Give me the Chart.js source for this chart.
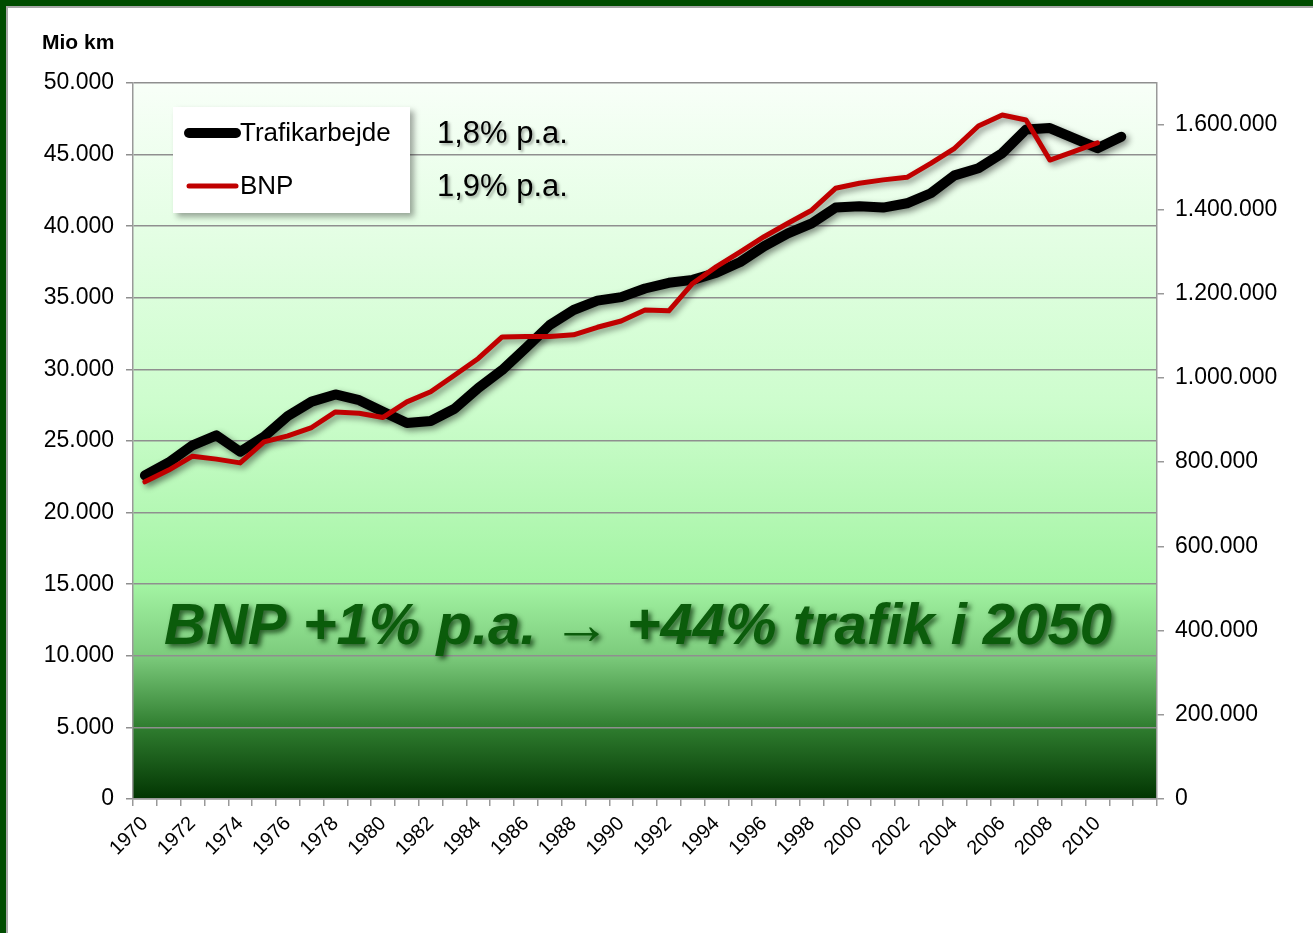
<!DOCTYPE html>
<html>
<head>
<meta charset="utf-8">
<script src="https://cdn.jsdelivr.net/npm/chart.js@4.4.1/dist/chart.umd.min.js"></script>
<style>
  body { margin: 0; background: #fff; }
  canvas { display: block; }
</style>
</head>
<body>
<canvas id="trafikChart" width="1313" height="933"></canvas>
<script>
// years on the category axis (last slot is empty, like the original)
const years = ['1970','1971','1972','1973','1974','1975','1976','1977','1978','1979',
               '1980','1981','1982','1983','1984','1985','1986','1987','1988','1989',
               '1990','1991','1992','1993','1994','1995','1996','1997','1998','1999',
               '2000','2001','2002','2003','2004','2005','2006','2007','2008','2009',
               '2010','2011',''];

// Trafikarbejde, mio km (left axis)
const trafikarbejde = [22600, 23500, 24700, 25400, 24250, 25300, 26750, 27750, 28250, 27850,
                       27050, 26250, 26400, 27250, 28700, 29950, 31500, 33100, 34150, 34800,
                       35050, 35650, 36050, 36250, 36750, 37500, 38600, 39500, 40200, 41300,
                       41400, 41300, 41600, 42300, 43550, 44050, 45100, 46750, 46850, 46150,
                       45450, 46250];

// BNP (right axis)
const bnp = [753000, 781000, 814000, 807000, 798000, 848000, 862000, 882000, 919000, 916000,
             906000, 943000, 967000, 1006000, 1046000, 1097000, 1098000, 1098000, 1102000, 1120000,
             1135000, 1161000, 1159000, 1224000, 1264000, 1299000, 1335000, 1367000, 1398000, 1450000,
             1462000, 1470000, 1476000, 1509000, 1545000, 1598000, 1624000, 1612000, 1517000, 1537000,
             1558000];

// tick values
const leftTicks = [0, 5000, 10000, 15000, 20000, 25000, 30000, 35000, 40000, 45000, 50000];
const rightTicks = [0, 200000, 400000, 600000, 800000, 1000000, 1200000, 1400000, 1600000];

const seriesNames = ['Trafikarbejde', 'BNP'];
const growthNotes = ['1,8% p.a.', '1,9% p.a.'];
const headline = 'BNP +1% p.a. \u2192 +44% trafik i 2050';
const unitLabel = 'Mio km';

const FONT = '"Liberation Sans", Arial, sans-serif';
const dots = v => String(v).replace(/\B(?=(\d{3})+(?!\d))/g, '.');

// page frame + gradient plot background
const backdrop = {
    id: 'backdrop',
    beforeDraw(chart) {
        const c = chart.ctx, a = chart.chartArea;
        c.save();
        c.fillStyle = '#fff';
        c.fillRect(0, 0, chart.width, chart.height);
        const g = c.createLinearGradient(0, a.top, 0, a.bottom);
        g.addColorStop(0, '#f8fff8');
        g.addColorStop(0.45, '#cdfdcd');
        g.addColorStop(0.70, '#a3f4a3');
        g.addColorStop(0.80, '#7ccb7c');
        g.addColorStop(0.90, '#2f7d2f');
        g.addColorStop(1, '#023502');
        c.fillStyle = g;
        c.fillRect(a.left, a.top, a.right - a.left, a.bottom - a.top);
        // frame
        c.fillStyle = '#a8a8a8';
        c.fillRect(0, 0, chart.width, 8);
        c.fillRect(0, 0, 8, chart.height);
        c.fillStyle = '#004d00';
        c.fillRect(0, 0, chart.width, 6);
        c.fillRect(0, 0, 6, chart.height);
        c.restore();
    }
};

// soft drop shadow under the lines
const lineShadow = {
    id: 'lineShadow',
    beforeDatasetDraw(chart) {
        const c = chart.ctx;
        c.save();
        c.shadowColor = 'rgba(0,0,0,0.45)';
        c.shadowBlur = 6;
        c.shadowOffsetX = 3;
        c.shadowOffsetY = 3;
    },
    afterDatasetDraw(chart) {
        chart.ctx.restore();
    }
};

// legend box, notes, headline, unit label
const overlay = {
    id: 'overlay',
    afterDraw(chart) {
        const c = chart.ctx;
        c.save();
        // unit
        c.fillStyle = '#000';
        c.font = 'bold 21px ' + FONT;
        c.textBaseline = 'middle';
        c.textAlign = 'left';
        c.fillText(unitLabel, 42, 43);

        // legend box
        c.save();
        c.shadowColor = 'rgba(0,0,0,0.35)';
        c.shadowBlur = 6;
        c.shadowOffsetX = 4;
        c.shadowOffsetY = 4;
        c.fillStyle = '#fff';
        c.fillRect(173, 107, 237, 106);
        c.restore();

        const ds = chart.data.datasets;
        const rows = [133, 186];
        ds.forEach((d, i) => {
            c.strokeStyle = d.borderColor;
            c.lineWidth = d.borderWidth;
            c.lineCap = 'round';
            c.beginPath();
            c.moveTo(189, rows[i]);
            c.lineTo(236, rows[i]);
            c.stroke();
            c.fillStyle = '#000';
            c.font = '26px ' + FONT;
            c.fillText(d.label, 240, rows[i] + 1);
        });

        // growth notes
        c.save();
        c.shadowColor = 'rgba(0,0,0,0.35)';
        c.shadowBlur = 3;
        c.shadowOffsetX = 2;
        c.shadowOffsetY = 2;
        c.font = '31px ' + FONT;
        c.fillStyle = '#000';
        growthNotes.forEach((t, i) => c.fillText(t, 437, rows[i] + 1));
        c.restore();

        // headline
        c.save();
        c.shadowColor = 'rgba(0,40,0,0.7)';
        c.shadowBlur = 5;
        c.shadowOffsetX = 3;
        c.shadowOffsetY = 3;
        c.font = 'italic bold 58px ' + FONT;
        c.fillStyle = '#0b5c0b';
        c.textAlign = 'center';
        c.fillText(headline, 638, 628);
        c.restore();

        c.restore();
    }
};

new Chart(document.getElementById('trafikChart'), {
    type: 'line',
    data: {
        labels: years,
        datasets: [{
            label: seriesNames[0],
            data: trafikarbejde,
            yAxisID: 'y',
            borderColor: '#000000',
            borderWidth: 10,
            order: 2
        }, {
            label: seriesNames[1],
            data: bnp,
            yAxisID: 'y1',
            borderColor: '#c00000',
            borderWidth: 5,
            order: 1
        }]
    },
    options: {
        responsive: false,
        animation: false,
        layout: { padding: { top: 83, right: 0, left: 0, bottom: 0 } },
        elements: {
            point: { radius: 0 },
            line: { tension: 0, borderJoinStyle: 'round', borderCapStyle: 'round' }
        },
        plugins: {
            legend: { display: false },
            tooltip: { enabled: false }
        },
        scales: {
            x: {
                offset: true,
                afterFit: s => { s.height = 134; },
                grid: { offset: true, drawOnChartArea: false, tickLength: 7, color: '#999', lineWidth: 1.5 },
                border: { color: '#999', width: 1.5 },
                ticks: {
                    autoSkip: false,
                    maxRotation: 45,
                    minRotation: 45,
                    padding: 6,
                    color: '#000',
                    font: { family: FONT, size: 20 },
                    callback: function (v, i) { return i % 2 === 0 ? this.getLabelForValue(v) : ''; }
                }
            },
            y: {
                position: 'left',
                min: 0,
                max: 50000,
                afterFit: s => { s.width = 133; },
                afterBuildTicks: s => { s.ticks = leftTicks.map(v => ({ value: v })); },
                grid: { color: '#8f8f8f', lineWidth: 1.5, tickLength: 7 },
                border: { color: '#999', width: 1.5 },
                ticks: {
                    padding: 12,
                    color: '#000',
                    font: { family: FONT, size: 23 },
                    callback: v => dots(v)
                }
            },
            y1: {
                position: 'right',
                min: 0,
                max: 1700000,
                afterFit: s => { s.width = 156; },
                afterBuildTicks: s => { s.ticks = rightTicks.map(v => ({ value: v })); },
                grid: { drawOnChartArea: false, color: '#999', lineWidth: 1.5, tickLength: 7 },
                border: { color: '#999', width: 1.5 },
                ticks: {
                    padding: 11,
                    color: '#000',
                    font: { family: FONT, size: 23 },
                    callback: v => dots(v)
                }
            }
        }
    },
    plugins: [backdrop, lineShadow, overlay]
});
</script>
</body>
</html>
